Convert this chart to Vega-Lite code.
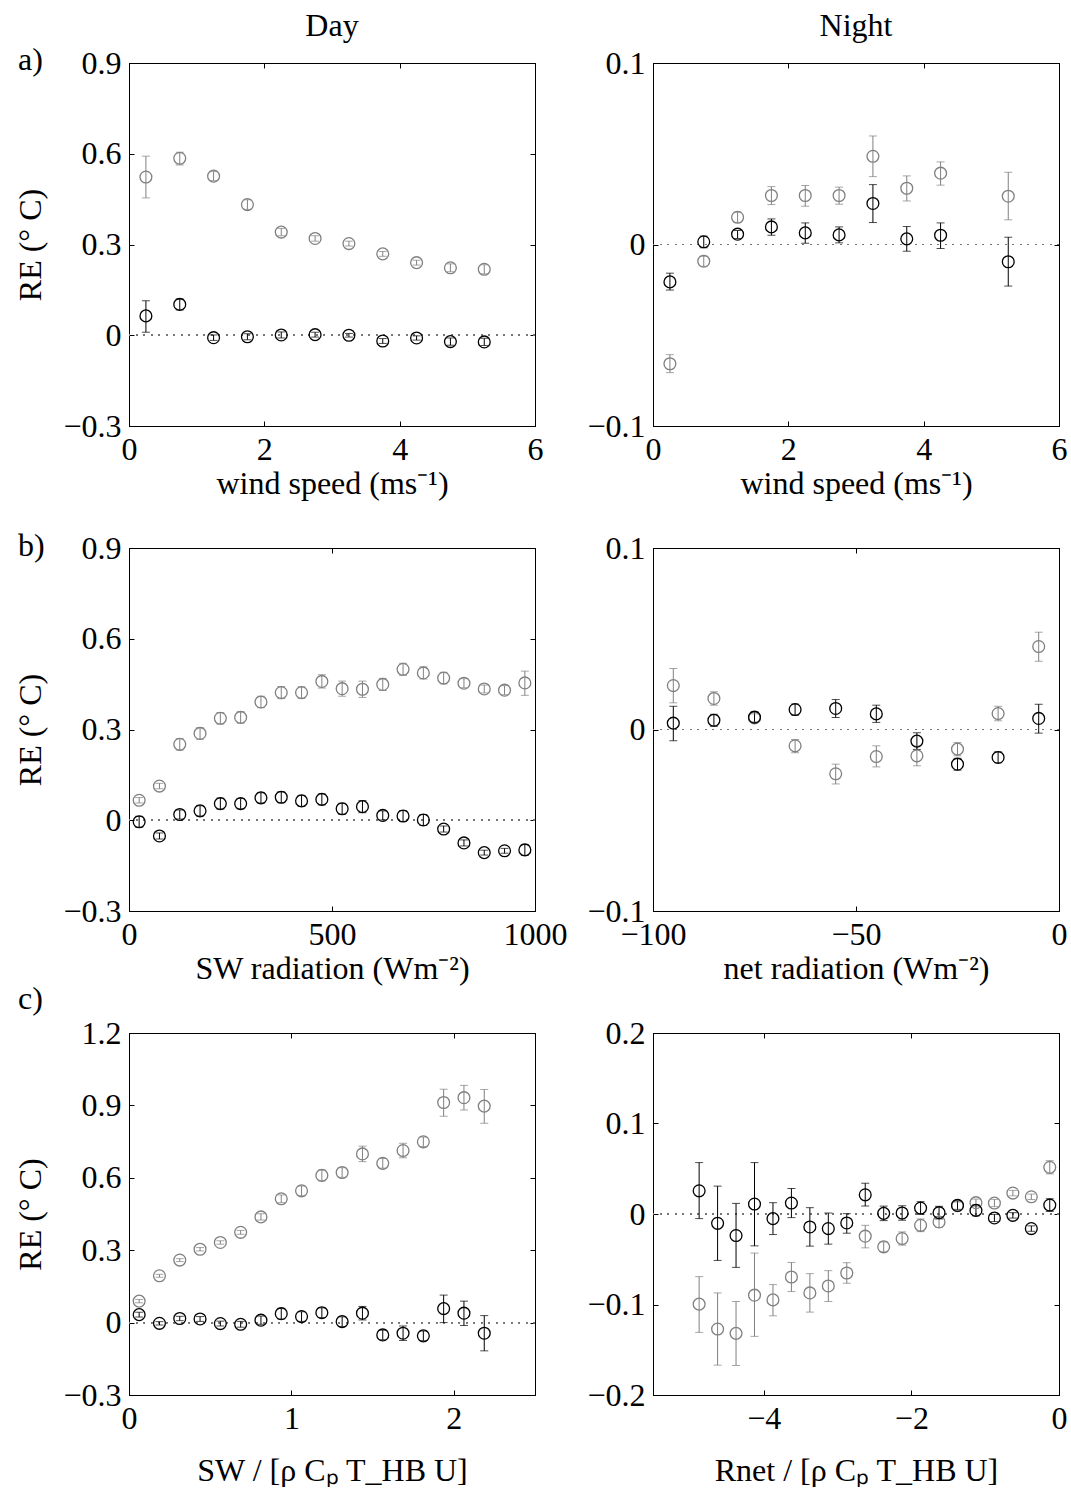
{
"$schema":"https://vega.github.io/schema/vega-lite/v6.json",
"padding":{"left":14,"top":9,"right":0,"bottom":0},
"autosize":{"type":"pad"},
"bounds":"flush",
"columns":2,
"spacing":{"row":122,"column":118},
"title":{"text":"a)","anchor":"start","frame":"group","dx":-111,"dy":92,"offset":0,"baseline":"alphabetic","align":"left"},
"config":{
 "view":{"stroke":"black","strokeWidth":1},
 "font":"Liberation Serif",
 "axis":{"labelFont":"Liberation Serif","labelFontSize":32,"titleFont":"Liberation Serif","titleFontSize":32,"titleFontWeight":"normal","labelColor":"black","titleColor":"black","domainColor":"black","tickColor":"black","grid":false,"tickSize":-5,"labelPadding":13,"labelFlush":false,"labelOverlap":false,"format":"~r","titlePadding":3},
 "axisLeft":{"titlePadding":15},
 "title":{"font":"Liberation Serif","fontSize":32,"fontWeight":"normal","color":"black"}
},
"datasets":{
"aD":[
{"s":"gray","x":0.25,"y":0.523,"lo":0.454,"hi":0.592},
{"s":"gray","x":0.75,"y":0.585,"lo":0.563,"hi":0.605},
{"s":"gray","x":1.25,"y":0.526,"lo":0.511,"hi":0.541},
{"s":"gray","x":1.75,"y":0.432,"lo":0.416,"hi":0.448},
{"s":"gray","x":2.25,"y":0.341,"lo":0.329,"hi":0.353},
{"s":"gray","x":2.75,"y":0.320,"lo":0.311,"hi":0.329},
{"s":"gray","x":3.25,"y":0.303,"lo":0.295,"hi":0.311},
{"s":"gray","x":3.75,"y":0.269,"lo":0.261,"hi":0.277},
{"s":"gray","x":4.25,"y":0.240,"lo":0.232,"hi":0.248},
{"s":"gray","x":4.75,"y":0.223,"lo":0.210,"hi":0.236},
{"s":"gray","x":5.25,"y":0.218,"lo":0.203,"hi":0.233},
{"s":"black","x":0.25,"y":0.064,"lo":0.010,"hi":0.114},
{"s":"black","x":0.75,"y":0.102,"lo":0.084,"hi":0.120},
{"s":"black","x":1.25,"y":-0.008,"lo":-0.017,"hi":0.001},
{"s":"black","x":1.75,"y":-0.005,"lo":-0.015,"hi":0.005},
{"s":"black","x":2.25,"y":0.001,"lo":-0.009,"hi":0.011},
{"s":"black","x":2.75,"y":0.002,"lo":-0.006,"hi":0.010},
{"s":"black","x":3.25,"y":0.000,"lo":-0.006,"hi":0.006},
{"s":"black","x":3.75,"y":-0.019,"lo":-0.027,"hi":-0.011},
{"s":"black","x":4.25,"y":-0.009,"lo":-0.016,"hi":-0.002},
{"s":"black","x":4.75,"y":-0.021,"lo":-0.033,"hi":-0.009},
{"s":"black","x":5.25,"y":-0.022,"lo":-0.034,"hi":-0.010}
],
"aN":[
{"s":"gray","x":0.25,"y":-0.0657,"lo":-0.0706,"hi":-0.0607},
{"s":"gray","x":0.75,"y":-0.0092,"lo":-0.0120,"hi":-0.0064},
{"s":"gray","x":1.25,"y":0.0150,"lo":0.0122,"hi":0.0178},
{"s":"gray","x":1.75,"y":0.0270,"lo":0.0220,"hi":0.0319},
{"s":"gray","x":2.25,"y":0.0270,"lo":0.0211,"hi":0.0325},
{"s":"gray","x":2.75,"y":0.0270,"lo":0.0222,"hi":0.0316},
{"s":"gray","x":3.25,"y":0.0486,"lo":0.0374,"hi":0.0598},
{"s":"gray","x":3.75,"y":0.0310,"lo":0.0240,"hi":0.0378},
{"s":"gray","x":4.25,"y":0.0393,"lo":0.0327,"hi":0.0455},
{"s":"gray","x":5.25,"y":0.0266,"lo":0.0136,"hi":0.0398},
{"s":"black","x":0.25,"y":-0.0206,"lo":-0.0251,"hi":-0.0158},
{"s":"black","x":0.75,"y":0.0015,"lo":-0.0018,"hi":0.0046},
{"s":"black","x":1.25,"y":0.0057,"lo":0.0033,"hi":0.0077},
{"s":"black","x":1.75,"y":0.0097,"lo":0.0051,"hi":0.0141},
{"s":"black","x":2.25,"y":0.0064,"lo":0.0007,"hi":0.0119},
{"s":"black","x":2.75,"y":0.0053,"lo":0.0009,"hi":0.0097},
{"s":"black","x":3.25,"y":0.0226,"lo":0.0121,"hi":0.0330},
{"s":"black","x":3.75,"y":0.0031,"lo":-0.0037,"hi":0.0099},
{"s":"black","x":4.25,"y":0.0051,"lo":-0.0022,"hi":0.0119},
{"s":"black","x":5.25,"y":-0.0095,"lo":-0.0229,"hi":0.0040}
],
"bD":[
{"s":"gray","x":25,"y":0.066,"lo":0.057,"hi":0.075},
{"s":"gray","x":75,"y":0.113,"lo":0.104,"hi":0.122},
{"s":"gray","x":125,"y":0.251,"lo":0.232,"hi":0.270},
{"s":"gray","x":175,"y":0.287,"lo":0.268,"hi":0.306},
{"s":"gray","x":225,"y":0.337,"lo":0.318,"hi":0.356},
{"s":"gray","x":275,"y":0.340,"lo":0.321,"hi":0.359},
{"s":"gray","x":325,"y":0.391,"lo":0.372,"hi":0.410},
{"s":"gray","x":375,"y":0.422,"lo":0.402,"hi":0.442},
{"s":"gray","x":425,"y":0.422,"lo":0.403,"hi":0.441},
{"s":"gray","x":475,"y":0.459,"lo":0.437,"hi":0.481},
{"s":"gray","x":525,"y":0.435,"lo":0.410,"hi":0.460},
{"s":"gray","x":575,"y":0.433,"lo":0.406,"hi":0.460},
{"s":"gray","x":625,"y":0.449,"lo":0.429,"hi":0.469},
{"s":"gray","x":675,"y":0.499,"lo":0.479,"hi":0.519},
{"s":"gray","x":725,"y":0.487,"lo":0.467,"hi":0.507},
{"s":"gray","x":775,"y":0.470,"lo":0.451,"hi":0.489},
{"s":"gray","x":825,"y":0.453,"lo":0.438,"hi":0.468},
{"s":"gray","x":875,"y":0.434,"lo":0.421,"hi":0.447},
{"s":"gray","x":925,"y":0.430,"lo":0.415,"hi":0.445},
{"s":"gray","x":975,"y":0.454,"lo":0.413,"hi":0.493},
{"s":"black","x":25,"y":-0.005,"lo":-0.023,"hi":0.013},
{"s":"black","x":75,"y":-0.052,"lo":-0.062,"hi":-0.042},
{"s":"black","x":125,"y":0.019,"lo":0.004,"hi":0.034},
{"s":"black","x":175,"y":0.031,"lo":0.014,"hi":0.048},
{"s":"black","x":225,"y":0.055,"lo":0.037,"hi":0.073},
{"s":"black","x":275,"y":0.055,"lo":0.038,"hi":0.072},
{"s":"black","x":325,"y":0.074,"lo":0.057,"hi":0.091},
{"s":"black","x":375,"y":0.076,"lo":0.058,"hi":0.094},
{"s":"black","x":425,"y":0.064,"lo":0.046,"hi":0.082},
{"s":"black","x":475,"y":0.069,"lo":0.051,"hi":0.087},
{"s":"black","x":525,"y":0.038,"lo":0.020,"hi":0.056},
{"s":"black","x":575,"y":0.045,"lo":0.025,"hi":0.065},
{"s":"black","x":625,"y":0.016,"lo":0.001,"hi":0.031},
{"s":"black","x":675,"y":0.014,"lo":-0.004,"hi":0.032},
{"s":"black","x":725,"y":0.001,"lo":-0.017,"hi":0.019},
{"s":"black","x":775,"y":-0.029,"lo":-0.039,"hi":-0.019},
{"s":"black","x":825,"y":-0.075,"lo":-0.085,"hi":-0.065},
{"s":"black","x":875,"y":-0.107,"lo":-0.115,"hi":-0.099},
{"s":"black","x":925,"y":-0.101,"lo":-0.109,"hi":-0.093},
{"s":"black","x":975,"y":-0.098,"lo":-0.116,"hi":-0.080}
],
"bN":[
{"s":"gray","x":-95,"y":0.0242,"lo":0.0147,"hi":0.0336},
{"s":"gray","x":-85,"y":0.0171,"lo":0.0134,"hi":0.0208},
{"s":"gray","x":-75,"y":0.0064,"lo":0.0042,"hi":0.0086},
{"s":"gray","x":-65,"y":-0.0090,"lo":-0.0128,"hi":-0.0055},
{"s":"gray","x":-55,"y":-0.0244,"lo":-0.0300,"hi":-0.0191},
{"s":"gray","x":-45,"y":-0.0149,"lo":-0.0206,"hi":-0.0090},
{"s":"gray","x":-35,"y":-0.0145,"lo":-0.0200,"hi":-0.0090},
{"s":"gray","x":-25,"y":-0.0108,"lo":-0.0145,"hi":-0.0072},
{"s":"gray","x":-15,"y":0.0088,"lo":0.0048,"hi":0.0128},
{"s":"gray","x":-5,"y":0.0457,"lo":0.0376,"hi":0.0536},
{"s":"black","x":-95,"y":0.0035,"lo":-0.0062,"hi":0.0128},
{"s":"black","x":-85,"y":0.0051,"lo":0.0018,"hi":0.0084},
{"s":"black","x":-75,"y":0.0068,"lo":0.0039,"hi":0.0097},
{"s":"black","x":-65,"y":0.0110,"lo":0.0079,"hi":0.0140},
{"s":"black","x":-55,"y":0.0116,"lo":0.0066,"hi":0.0165},
{"s":"black","x":-45,"y":0.0086,"lo":0.0039,"hi":0.0134},
{"s":"black","x":-35,"y":-0.0064,"lo":-0.0110,"hi":-0.0018},
{"s":"black","x":-25,"y":-0.0191,"lo":-0.0224,"hi":-0.0159},
{"s":"black","x":-15,"y":-0.0154,"lo":-0.0183,"hi":-0.0123},
{"s":"black","x":-5,"y":0.0061,"lo":-0.0020,"hi":0.0139}
],
"cD":[
{"s":"gray","x":0.0625,"y":0.089,"lo":0.082,"hi":0.096},
{"s":"gray","x":0.1875,"y":0.194,"lo":0.188,"hi":0.200},
{"s":"gray","x":0.3125,"y":0.259,"lo":0.253,"hi":0.265},
{"s":"gray","x":0.4375,"y":0.304,"lo":0.297,"hi":0.311},
{"s":"gray","x":0.5625,"y":0.332,"lo":0.325,"hi":0.339},
{"s":"gray","x":0.6875,"y":0.374,"lo":0.366,"hi":0.382},
{"s":"gray","x":0.8125,"y":0.438,"lo":0.425,"hi":0.451},
{"s":"gray","x":0.9375,"y":0.513,"lo":0.497,"hi":0.529},
{"s":"gray","x":1.0625,"y":0.546,"lo":0.526,"hi":0.566},
{"s":"gray","x":1.1875,"y":0.610,"lo":0.588,"hi":0.632},
{"s":"gray","x":1.3125,"y":0.622,"lo":0.602,"hi":0.642},
{"s":"gray","x":1.4375,"y":0.699,"lo":0.667,"hi":0.731},
{"s":"gray","x":1.5625,"y":0.660,"lo":0.640,"hi":0.680},
{"s":"gray","x":1.6875,"y":0.713,"lo":0.683,"hi":0.743},
{"s":"gray","x":1.8125,"y":0.749,"lo":0.729,"hi":0.769},
{"s":"gray","x":1.9375,"y":0.912,"lo":0.855,"hi":0.967},
{"s":"gray","x":2.0625,"y":0.932,"lo":0.881,"hi":0.983},
{"s":"gray","x":2.1875,"y":0.897,"lo":0.826,"hi":0.966},
{"s":"black","x":0.0625,"y":0.033,"lo":0.023,"hi":0.043},
{"s":"black","x":0.1875,"y":-0.003,"lo":-0.010,"hi":0.004},
{"s":"black","x":0.3125,"y":0.017,"lo":0.008,"hi":0.026},
{"s":"black","x":0.4375,"y":0.015,"lo":0.005,"hi":0.025},
{"s":"black","x":0.5625,"y":-0.004,"lo":-0.014,"hi":0.006},
{"s":"black","x":0.6875,"y":-0.007,"lo":-0.019,"hi":0.005},
{"s":"black","x":0.8125,"y":0.010,"lo":-0.007,"hi":0.027},
{"s":"black","x":0.9375,"y":0.037,"lo":0.015,"hi":0.059},
{"s":"black","x":1.0625,"y":0.025,"lo":0.005,"hi":0.045},
{"s":"black","x":1.1875,"y":0.041,"lo":0.021,"hi":0.061},
{"s":"black","x":1.3125,"y":0.004,"lo":-0.016,"hi":0.024},
{"s":"black","x":1.4375,"y":0.039,"lo":0.011,"hi":0.067},
{"s":"black","x":1.5625,"y":-0.051,"lo":-0.071,"hi":-0.031},
{"s":"black","x":1.6875,"y":-0.044,"lo":-0.074,"hi":-0.014},
{"s":"black","x":1.8125,"y":-0.055,"lo":-0.075,"hi":-0.035},
{"s":"black","x":1.9375,"y":0.058,"lo":0.000,"hi":0.114},
{"s":"black","x":2.0625,"y":0.039,"lo":-0.012,"hi":0.089},
{"s":"black","x":2.1875,"y":-0.044,"lo":-0.117,"hi":0.029}
],
"cN":[
{"s":"gray","x":-4.875,"y":-0.0996,"lo":-0.1308,"hi":-0.0692},
{"s":"gray","x":-4.625,"y":-0.1271,"lo":-0.1670,"hi":-0.0872},
{"s":"gray","x":-4.375,"y":-0.1319,"lo":-0.1674,"hi":-0.0967},
{"s":"gray","x":-4.125,"y":-0.0897,"lo":-0.1352,"hi":-0.0432},
{"s":"gray","x":-3.875,"y":-0.0949,"lo":-0.1125,"hi":-0.0780},
{"s":"gray","x":-3.625,"y":-0.0696,"lo":-0.0857,"hi":-0.0535},
{"s":"gray","x":-3.375,"y":-0.0872,"lo":-0.1084,"hi":-0.0659},
{"s":"gray","x":-3.125,"y":-0.0795,"lo":-0.0967,"hi":-0.0626},
{"s":"gray","x":-2.875,"y":-0.0652,"lo":-0.0765,"hi":-0.0538},
{"s":"gray","x":-2.625,"y":-0.0245,"lo":-0.0374,"hi":-0.0125},
{"s":"gray","x":-2.375,"y":-0.0363,"lo":-0.0418,"hi":-0.0308},
{"s":"gray","x":-2.125,"y":-0.0271,"lo":-0.0344,"hi":-0.0198},
{"s":"gray","x":-1.875,"y":-0.0125,"lo":-0.0195,"hi":-0.0055},
{"s":"gray","x":-1.625,"y":-0.0088,"lo":-0.0148,"hi":-0.0028},
{"s":"gray","x":-1.375,"y":0.0092,"lo":0.0052,"hi":0.0132},
{"s":"gray","x":-1.125,"y":0.0125,"lo":0.0085,"hi":0.0165},
{"s":"gray","x":-0.875,"y":0.0121,"lo":0.0081,"hi":0.0161},
{"s":"gray","x":-0.625,"y":0.0231,"lo":0.0201,"hi":0.0261},
{"s":"gray","x":-0.375,"y":0.0190,"lo":0.0160,"hi":0.0220},
{"s":"gray","x":-0.125,"y":0.0516,"lo":0.0443,"hi":0.0589},
{"s":"black","x":-4.875,"y":0.0256,"lo":-0.0051,"hi":0.0568},
{"s":"black","x":-4.625,"y":-0.0103,"lo":-0.0513,"hi":0.0308},
{"s":"black","x":-4.375,"y":-0.0238,"lo":-0.0590,"hi":0.0117},
{"s":"black","x":-4.125,"y":0.0110,"lo":-0.0352,"hi":0.0568},
{"s":"black","x":-3.875,"y":-0.0051,"lo":-0.0227,"hi":0.0125},
{"s":"black","x":-3.625,"y":0.0121,"lo":-0.0040,"hi":0.0282},
{"s":"black","x":-3.375,"y":-0.0143,"lo":-0.0355,"hi":0.0070},
{"s":"black","x":-3.125,"y":-0.0161,"lo":-0.0333,"hi":0.0011},
{"s":"black","x":-2.875,"y":-0.0099,"lo":-0.0212,"hi":0.0004},
{"s":"black","x":-2.625,"y":0.0212,"lo":0.0088,"hi":0.0340},
{"s":"black","x":-2.375,"y":0.0007,"lo":-0.0073,"hi":0.0087},
{"s":"black","x":-2.125,"y":0.0011,"lo":-0.0069,"hi":0.0091},
{"s":"black","x":-1.875,"y":0.0066,"lo":-0.0004,"hi":0.0136},
{"s":"black","x":-1.625,"y":0.0015,"lo":-0.0055,"hi":0.0085},
{"s":"black","x":-1.375,"y":0.0095,"lo":0.0045,"hi":0.0145},
{"s":"black","x":-1.125,"y":0.0040,"lo":-0.0020,"hi":0.0100},
{"s":"black","x":-0.875,"y":-0.0044,"lo":-0.0084,"hi":-0.0004},
{"s":"black","x":-0.625,"y":-0.0015,"lo":-0.0045,"hi":0.0015},
{"s":"black","x":-0.375,"y":-0.0161,"lo":-0.0191,"hi":-0.0131},
{"s":"black","x":-0.125,"y":0.0099,"lo":0.0029,"hi":0.0169}
]
},
"concat":[
 {"width":406,"height":363,"title":{"text":"Day","offset":-21,"baseline":"alphabetic"},"data":{"name":"aD"},
  "layer":[
   {"mark":{"type":"rule","strokeDash":[1.5,6],"color":"#777","strokeWidth":1},"encoding":{"y":{"datum":0,"type":"quantitative","scale":{"domain":[-0.3,0.9],"nice":false,"zero":false},"axis":null}}},
   {"mark":{"type":"rule","strokeWidth":1},"encoding":{
     "x":{"field":"x","type":"quantitative","scale":{"domain":[0,6],"nice":false,"zero":false},"axis":{"orient":"top","values":[0,2,4,6],"labels":false,"title":null}},
     "y":{"field":"lo","type":"quantitative","scale":{"domain":[-0.3,0.9],"nice":false,"zero":false},"axis":{"orient":"right","values":[-0.3,0,0.3,0.6,0.9],"labels":false,"title":null}},
     "y2":{"field":"hi"},
     "color":{"field":"s","type":"nominal","scale":{"domain":["gray","black"],"range":["#808080","#000000"]},"legend":null}}},
   {"mark":{"type":"tick","orient":"horizontal","size":8,"thickness":1},"encoding":{
     "x":{"field":"x","type":"quantitative","scale":{"domain":[0,6],"nice":false,"zero":false},"axis":null},
     "y":{"field":"lo","type":"quantitative","scale":{"domain":[-0.3,0.9],"nice":false,"zero":false},"axis":null},
     "color":{"field":"s","type":"nominal","scale":{"domain":["gray","black"],"range":["#808080","#000000"]},"legend":null}}},
   {"mark":{"type":"tick","orient":"horizontal","size":8,"thickness":1},"encoding":{
     "x":{"field":"x","type":"quantitative","scale":{"domain":[0,6],"nice":false,"zero":false},"axis":null},
     "y":{"field":"hi","type":"quantitative","scale":{"domain":[-0.3,0.9],"nice":false,"zero":false},"axis":null},
     "color":{"field":"s","type":"nominal","scale":{"domain":["gray","black"],"range":["#808080","#000000"]},"legend":null}}},
   {"mark":{"type":"point","shape":"circle","filled":false,"size":140,"strokeWidth":1.3,"opacity":1},"encoding":{
     "x":{"field":"x","type":"quantitative","scale":{"domain":[0,6],"nice":false,"zero":false},"axis":{"orient":"bottom","values":[0,2,4,6],"title":"wind speed (ms⁻¹)"}},
     "y":{"field":"y","type":"quantitative","scale":{"domain":[-0.3,0.9],"nice":false,"zero":false},"axis":{"orient":"left","values":[-0.3,0,0.3,0.6,0.9],"title":"RE (° C)"}},
     "color":{"field":"s","type":"nominal","scale":{"domain":["gray","black"],"range":["#808080","#000000"]},"legend":null}}}
  ],
  "resolve":{"axis":{"x":"independent","y":"independent"}}},
 {"width":406,"height":363,"title":{"text":"Night","offset":-21,"baseline":"alphabetic"},"data":{"name":"aN"},
  "layer":[
   {"mark":{"type":"rule","strokeDash":[1.5,6],"color":"#777","strokeWidth":1},"encoding":{"y":{"datum":0,"type":"quantitative","scale":{"domain":[-0.1,0.1],"nice":false,"zero":false},"axis":null}}},
   {"mark":{"type":"rule","strokeWidth":1},"encoding":{
     "x":{"field":"x","type":"quantitative","scale":{"domain":[0,6],"nice":false,"zero":false},"axis":{"orient":"top","values":[0,2,4,6],"labels":false,"title":null}},
     "y":{"field":"lo","type":"quantitative","scale":{"domain":[-0.1,0.1],"nice":false,"zero":false},"axis":{"orient":"right","values":[-0.1,0,0.1],"labels":false,"title":null}},
     "y2":{"field":"hi"},
     "color":{"field":"s","type":"nominal","scale":{"domain":["gray","black"],"range":["#808080","#000000"]},"legend":null}}},
   {"mark":{"type":"tick","orient":"horizontal","size":8,"thickness":1},"encoding":{
     "x":{"field":"x","type":"quantitative","scale":{"domain":[0,6],"nice":false,"zero":false},"axis":null},
     "y":{"field":"lo","type":"quantitative","scale":{"domain":[-0.1,0.1],"nice":false,"zero":false},"axis":null},
     "color":{"field":"s","type":"nominal","scale":{"domain":["gray","black"],"range":["#808080","#000000"]},"legend":null}}},
   {"mark":{"type":"tick","orient":"horizontal","size":8,"thickness":1},"encoding":{
     "x":{"field":"x","type":"quantitative","scale":{"domain":[0,6],"nice":false,"zero":false},"axis":null},
     "y":{"field":"hi","type":"quantitative","scale":{"domain":[-0.1,0.1],"nice":false,"zero":false},"axis":null},
     "color":{"field":"s","type":"nominal","scale":{"domain":["gray","black"],"range":["#808080","#000000"]},"legend":null}}},
   {"mark":{"type":"point","shape":"circle","filled":false,"size":140,"strokeWidth":1.3,"opacity":1},"encoding":{
     "x":{"field":"x","type":"quantitative","scale":{"domain":[0,6],"nice":false,"zero":false},"axis":{"orient":"bottom","values":[0,2,4,6],"title":"wind speed (ms⁻¹)"}},
     "y":{"field":"y","type":"quantitative","scale":{"domain":[-0.1,0.1],"nice":false,"zero":false},"axis":{"orient":"left","values":[-0.1,0,0.1],"title":null}},
     "color":{"field":"s","type":"nominal","scale":{"domain":["gray","black"],"range":["#808080","#000000"]},"legend":null}}}
  ],
  "resolve":{"axis":{"x":"independent","y":"independent"}}},
 {"width":406,"height":363,"title":{"text":"b)","anchor":"start","frame":"group","dx":-111,"dy":56,"offset":0,"baseline":"alphabetic","align":"left"},"data":{"name":"bD"},
  "layer":[
   {"mark":{"type":"rule","strokeDash":[1.5,6],"color":"#777","strokeWidth":1},"encoding":{"y":{"datum":0,"type":"quantitative","scale":{"domain":[-0.3,0.9],"nice":false,"zero":false},"axis":null}}},
   {"mark":{"type":"rule","strokeWidth":1},"encoding":{
     "x":{"field":"x","type":"quantitative","scale":{"domain":[0,1000],"nice":false,"zero":false},"axis":{"orient":"top","values":[0,500,1000],"labels":false,"title":null}},
     "y":{"field":"lo","type":"quantitative","scale":{"domain":[-0.3,0.9],"nice":false,"zero":false},"axis":{"orient":"right","values":[-0.3,0,0.3,0.6,0.9],"labels":false,"title":null}},
     "y2":{"field":"hi"},
     "color":{"field":"s","type":"nominal","scale":{"domain":["gray","black"],"range":["#808080","#000000"]},"legend":null}}},
   {"mark":{"type":"tick","orient":"horizontal","size":8,"thickness":1},"encoding":{
     "x":{"field":"x","type":"quantitative","scale":{"domain":[0,1000],"nice":false,"zero":false},"axis":null},
     "y":{"field":"lo","type":"quantitative","scale":{"domain":[-0.3,0.9],"nice":false,"zero":false},"axis":null},
     "color":{"field":"s","type":"nominal","scale":{"domain":["gray","black"],"range":["#808080","#000000"]},"legend":null}}},
   {"mark":{"type":"tick","orient":"horizontal","size":8,"thickness":1},"encoding":{
     "x":{"field":"x","type":"quantitative","scale":{"domain":[0,1000],"nice":false,"zero":false},"axis":null},
     "y":{"field":"hi","type":"quantitative","scale":{"domain":[-0.3,0.9],"nice":false,"zero":false},"axis":null},
     "color":{"field":"s","type":"nominal","scale":{"domain":["gray","black"],"range":["#808080","#000000"]},"legend":null}}},
   {"mark":{"type":"point","shape":"circle","filled":false,"size":140,"strokeWidth":1.3,"opacity":1},"encoding":{
     "x":{"field":"x","type":"quantitative","scale":{"domain":[0,1000],"nice":false,"zero":false},"axis":{"orient":"bottom","values":[0,500,1000],"title":"SW radiation (Wm⁻²)"}},
     "y":{"field":"y","type":"quantitative","scale":{"domain":[-0.3,0.9],"nice":false,"zero":false},"axis":{"orient":"left","values":[-0.3,0,0.3,0.6,0.9],"title":"RE (° C)"}},
     "color":{"field":"s","type":"nominal","scale":{"domain":["gray","black"],"range":["#808080","#000000"]},"legend":null}}}
  ],
  "resolve":{"axis":{"x":"independent","y":"independent"}}},
 {"width":406,"height":363,"data":{"name":"bN"},
  "layer":[
   {"mark":{"type":"rule","strokeDash":[1.5,6],"color":"#777","strokeWidth":1},"encoding":{"y":{"datum":0,"type":"quantitative","scale":{"domain":[-0.1,0.1],"nice":false,"zero":false},"axis":null}}},
   {"mark":{"type":"rule","strokeWidth":1},"encoding":{
     "x":{"field":"x","type":"quantitative","scale":{"domain":[-100,0],"nice":false,"zero":false},"axis":{"orient":"top","values":[-100,-50,0],"labels":false,"title":null}},
     "y":{"field":"lo","type":"quantitative","scale":{"domain":[-0.1,0.1],"nice":false,"zero":false},"axis":{"orient":"right","values":[-0.1,0,0.1],"labels":false,"title":null}},
     "y2":{"field":"hi"},
     "color":{"field":"s","type":"nominal","scale":{"domain":["gray","black"],"range":["#808080","#000000"]},"legend":null}}},
   {"mark":{"type":"tick","orient":"horizontal","size":8,"thickness":1},"encoding":{
     "x":{"field":"x","type":"quantitative","scale":{"domain":[-100,0],"nice":false,"zero":false},"axis":null},
     "y":{"field":"lo","type":"quantitative","scale":{"domain":[-0.1,0.1],"nice":false,"zero":false},"axis":null},
     "color":{"field":"s","type":"nominal","scale":{"domain":["gray","black"],"range":["#808080","#000000"]},"legend":null}}},
   {"mark":{"type":"tick","orient":"horizontal","size":8,"thickness":1},"encoding":{
     "x":{"field":"x","type":"quantitative","scale":{"domain":[-100,0],"nice":false,"zero":false},"axis":null},
     "y":{"field":"hi","type":"quantitative","scale":{"domain":[-0.1,0.1],"nice":false,"zero":false},"axis":null},
     "color":{"field":"s","type":"nominal","scale":{"domain":["gray","black"],"range":["#808080","#000000"]},"legend":null}}},
   {"mark":{"type":"point","shape":"circle","filled":false,"size":140,"strokeWidth":1.3,"opacity":1},"encoding":{
     "x":{"field":"x","type":"quantitative","scale":{"domain":[-100,0],"nice":false,"zero":false},"axis":{"orient":"bottom","values":[-100,-50,0],"title":"net radiation (Wm⁻²)"}},
     "y":{"field":"y","type":"quantitative","scale":{"domain":[-0.1,0.1],"nice":false,"zero":false},"axis":{"orient":"left","values":[-0.1,0,0.1],"title":null}},
     "color":{"field":"s","type":"nominal","scale":{"domain":["gray","black"],"range":["#808080","#000000"]},"legend":null}}}
  ],
  "resolve":{"axis":{"x":"independent","y":"independent"}}},
 {"width":406,"height":362,"title":{"text":"c)","anchor":"start","frame":"group","dx":-111,"dy":24,"offset":0,"baseline":"alphabetic","align":"left"},"data":{"name":"cD"},
  "layer":[
   {"mark":{"type":"rule","strokeDash":[1.5,6],"color":"#777","strokeWidth":1},"encoding":{"y":{"datum":0,"type":"quantitative","scale":{"domain":[-0.3,1.2],"nice":false,"zero":false},"axis":null}}},
   {"mark":{"type":"rule","strokeWidth":1},"encoding":{
     "x":{"field":"x","type":"quantitative","scale":{"domain":[0,2.5],"nice":false,"zero":false},"axis":{"orient":"top","values":[0,1,2],"labels":false,"title":null}},
     "y":{"field":"lo","type":"quantitative","scale":{"domain":[-0.3,1.2],"nice":false,"zero":false},"axis":{"orient":"right","values":[-0.3,0,0.3,0.6,0.9,1.2],"labels":false,"title":null}},
     "y2":{"field":"hi"},
     "color":{"field":"s","type":"nominal","scale":{"domain":["gray","black"],"range":["#808080","#000000"]},"legend":null}}},
   {"mark":{"type":"tick","orient":"horizontal","size":8,"thickness":1},"encoding":{
     "x":{"field":"x","type":"quantitative","scale":{"domain":[0,2.5],"nice":false,"zero":false},"axis":null},
     "y":{"field":"lo","type":"quantitative","scale":{"domain":[-0.3,1.2],"nice":false,"zero":false},"axis":null},
     "color":{"field":"s","type":"nominal","scale":{"domain":["gray","black"],"range":["#808080","#000000"]},"legend":null}}},
   {"mark":{"type":"tick","orient":"horizontal","size":8,"thickness":1},"encoding":{
     "x":{"field":"x","type":"quantitative","scale":{"domain":[0,2.5],"nice":false,"zero":false},"axis":null},
     "y":{"field":"hi","type":"quantitative","scale":{"domain":[-0.3,1.2],"nice":false,"zero":false},"axis":null},
     "color":{"field":"s","type":"nominal","scale":{"domain":["gray","black"],"range":["#808080","#000000"]},"legend":null}}},
   {"mark":{"type":"point","shape":"circle","filled":false,"size":140,"strokeWidth":1.3,"opacity":1},"encoding":{
     "x":{"field":"x","type":"quantitative","scale":{"domain":[0,2.5],"nice":false,"zero":false},"axis":{"orient":"bottom","values":[0,1,2],"title":"SW / [ρ Cₚ T_HB U]","titlePadding":21}},
     "y":{"field":"y","type":"quantitative","scale":{"domain":[-0.3,1.2],"nice":false,"zero":false},"axis":{"orient":"left","values":[-0.3,0,0.3,0.6,0.9,1.2],"title":"RE (° C)"}},
     "color":{"field":"s","type":"nominal","scale":{"domain":["gray","black"],"range":["#808080","#000000"]},"legend":null}}}
  ],
  "resolve":{"axis":{"x":"independent","y":"independent"}}},
 {"width":406,"height":362,"data":{"name":"cN"},
  "layer":[
   {"mark":{"type":"rule","strokeDash":[1.5,6],"color":"#777","strokeWidth":1},"encoding":{"y":{"datum":0,"type":"quantitative","scale":{"domain":[-0.2,0.2],"nice":false,"zero":false},"axis":null}}},
   {"mark":{"type":"rule","strokeWidth":1},"encoding":{
     "x":{"field":"x","type":"quantitative","scale":{"domain":[-5.5,0],"nice":false,"zero":false},"axis":{"orient":"top","values":[-4,-2,0],"labels":false,"title":null}},
     "y":{"field":"lo","type":"quantitative","scale":{"domain":[-0.2,0.2],"nice":false,"zero":false},"axis":{"orient":"right","values":[-0.2,-0.1,0,0.1,0.2],"labels":false,"title":null}},
     "y2":{"field":"hi"},
     "color":{"field":"s","type":"nominal","scale":{"domain":["gray","black"],"range":["#808080","#000000"]},"legend":null}}},
   {"mark":{"type":"tick","orient":"horizontal","size":8,"thickness":1},"encoding":{
     "x":{"field":"x","type":"quantitative","scale":{"domain":[-5.5,0],"nice":false,"zero":false},"axis":null},
     "y":{"field":"lo","type":"quantitative","scale":{"domain":[-0.2,0.2],"nice":false,"zero":false},"axis":null},
     "color":{"field":"s","type":"nominal","scale":{"domain":["gray","black"],"range":["#808080","#000000"]},"legend":null}}},
   {"mark":{"type":"tick","orient":"horizontal","size":8,"thickness":1},"encoding":{
     "x":{"field":"x","type":"quantitative","scale":{"domain":[-5.5,0],"nice":false,"zero":false},"axis":null},
     "y":{"field":"hi","type":"quantitative","scale":{"domain":[-0.2,0.2],"nice":false,"zero":false},"axis":null},
     "color":{"field":"s","type":"nominal","scale":{"domain":["gray","black"],"range":["#808080","#000000"]},"legend":null}}},
   {"mark":{"type":"point","shape":"circle","filled":false,"size":140,"strokeWidth":1.3,"opacity":1},"encoding":{
     "x":{"field":"x","type":"quantitative","scale":{"domain":[-5.5,0],"nice":false,"zero":false},"axis":{"orient":"bottom","values":[-4,-2,0],"title":"Rnet / [ρ Cₚ T_HB U]","titlePadding":21}},
     "y":{"field":"y","type":"quantitative","scale":{"domain":[-0.2,0.2],"nice":false,"zero":false},"axis":{"orient":"left","values":[-0.2,-0.1,0,0.1,0.2],"title":null}},
     "color":{"field":"s","type":"nominal","scale":{"domain":["gray","black"],"range":["#808080","#000000"]},"legend":null}}}
  ],
  "resolve":{"axis":{"x":"independent","y":"independent"}}}
]
}
